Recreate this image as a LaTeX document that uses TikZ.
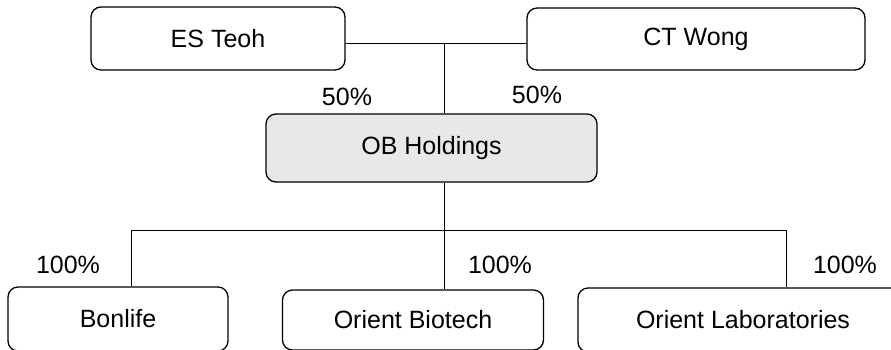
\documentclass[tikz,border=0pt]{standalone}
\usepackage{fontspec}
\setmainfont{Liberation Sans}
\usetikzlibrary{positioning}

\tikzset{
  company/.style={draw,line width=1.3pt,rounded corners=10pt,
    font=\fontsize{25}{30}\selectfont,inner sep=0pt},
  holding/.style={company,fill=black!9},
  share/.style={font=\fontsize{25}{30}\selectfont,inner sep=0pt},
  link/.style={line width=1pt}
}

\begin{document}
\begin{tikzpicture}[x=1pt,y=-1pt]
    \useasboundingbox (0,0) rectangle (891,349);
    \clip (0,0) rectangle (891,349);

    % owners
    \node[company,minimum width=254pt,minimum height=63pt] (teoh) at (218,38.5) {ES Teoh};
    \node[company,minimum width=338pt,minimum height=62pt] (wong) at (696,39) {CT Wong};

    % holding company
    \node[holding,minimum width=331pt,minimum height=68pt] (ob) at (431.5,148) {OB Holdings};

    % subsidiaries
    \node[company,minimum width=220pt,minimum height=64pt] (bonlife) at (118,319) {Bonlife};
    \node[company,minimum width=261pt,minimum height=60pt] (biotech) at (413,320) {Orient Biotech};
    \node[company,minimum width=330pt,minimum height=64pt] (labs) at (743,320) {Orient Laboratories};

    \coordinate (top) at (444,43);
    \coordinate (mid) at (444,230);
    \coordinate (b1) at (131,230);
    \coordinate (b3) at (786,230);

    \draw[link] (teoh.east |- top) -- (wong.west |- top);
    \draw[link] (top) -- (top |- ob.north);
    \draw[link] (top |- ob.south) -- (mid);
    \draw[link] (b1) -- (b3);
    \draw[link] (b1) -- (b1 |- bonlife.north);
    \draw[link] (mid) -- (mid |- biotech.north);
    \draw[link] (b3) -- (b3 |- labs.north);

    % percentages
    \node[share] (p1) at (347,97) {50\%};
    \node[share] (p2) at (537,95) {50\%};
    \node[share] (p3) at (68,265) {100\%};
    \node[share] (p4) at (500,265) {100\%};
    \node[share] (p5) at (845,265) {100\%};
\end{tikzpicture}
\end{document}
